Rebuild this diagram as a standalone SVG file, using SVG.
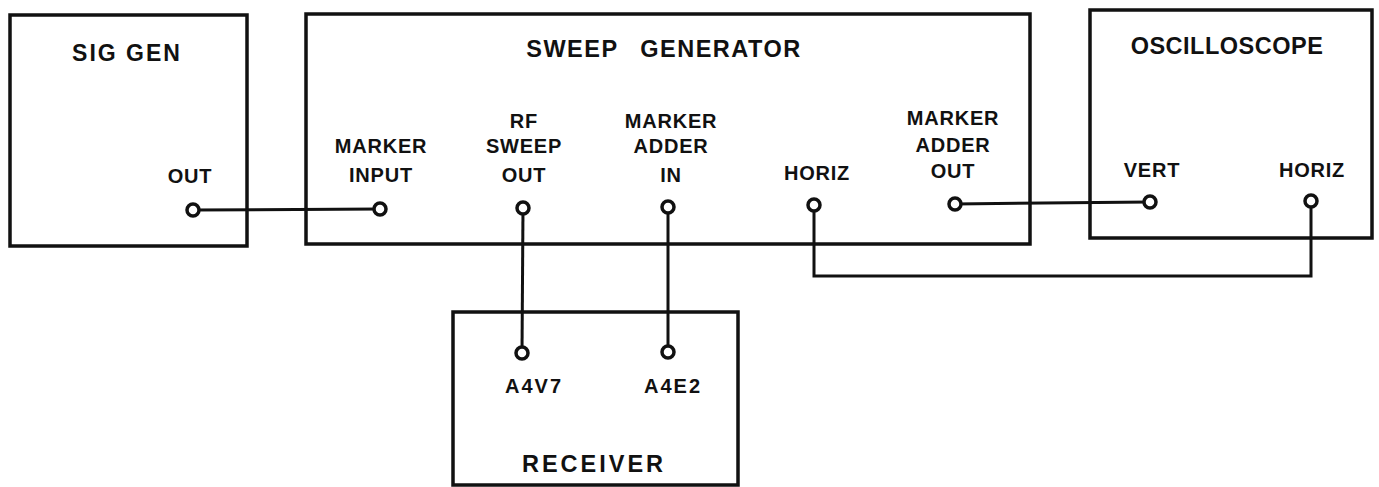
<svg xmlns="http://www.w3.org/2000/svg" width="1379" height="487" viewBox="0 0 1379 487">
<style>
.box{fill:none;stroke:#111;stroke-width:3.5}
.wire{fill:none;stroke:#111;stroke-width:3}
.jack{fill:#fff;stroke:#111;stroke-width:3.5}
.t{font-family:"Liberation Sans",Arial,sans-serif;fill:#111;text-anchor:middle;font-weight:bold}
.lbl{font-size:20px;letter-spacing:0.8px}
.ttl{font-size:23.5px;letter-spacing:1.5px}
</style>
<rect width="1379" height="487" fill="#fff"/>
<g id="connectors">
<line class="wire" x1="193" y1="210" x2="380" y2="209"/>
<line class="wire" x1="523" y1="208" x2="522" y2="353"/>
<line class="wire" x1="668" y1="207" x2="668" y2="352"/>
<line class="wire" x1="955" y1="204" x2="1150" y2="202"/>
<polyline class="wire" points="814,205 814,276 1311,276 1311,201"/>
</g>
<g id="sig-gen">
<rect class="box" x="10" y="15" width="237" height="231"/>
<text class="t ttl" x="127" y="61" style="font-size:23px;letter-spacing:2px">SIG GEN</text>
<text class="t lbl" x="190" y="183">OUT</text>
<circle class="jack" cx="193" cy="210" r="6"/>
</g>
<g id="sweep-generator">
<rect class="box" x="306" y="14" width="724" height="230"/>
<text class="t ttl" x="664" y="57" word-spacing="14">SWEEP GENERATOR</text>
<text class="t lbl" x="381" y="153">MARKER</text>
<text class="t lbl" x="381" y="182">INPUT</text>
<circle class="jack" cx="380" cy="209" r="6"/>
<text class="t lbl" x="524" y="128">RF</text>
<text class="t lbl" x="524" y="153">SWEEP</text>
<text class="t lbl" x="524" y="182">OUT</text>
<circle class="jack" cx="523" cy="208" r="6"/>
<text class="t lbl" x="671" y="128">MARKER</text>
<text class="t lbl" x="671" y="153">ADDER</text>
<text class="t lbl" x="671" y="182">IN</text>
<circle class="jack" cx="668" cy="207" r="6"/>
<text class="t lbl" x="817" y="180">HORIZ</text>
<circle class="jack" cx="814" cy="205" r="6"/>
<text class="t lbl" x="953" y="125">MARKER</text>
<text class="t lbl" x="953" y="152">ADDER</text>
<text class="t lbl" x="953" y="178">OUT</text>
<circle class="jack" cx="955" cy="204" r="6"/>
</g>
<g id="oscilloscope">
<rect class="box" x="1090" y="10" width="282" height="228"/>
<text class="t ttl" x="1227" y="54" style="letter-spacing:0.5px">OSCILLOSCOPE</text>
<text class="t lbl" x="1152" y="177">VERT</text>
<circle class="jack" cx="1150" cy="202" r="6"/>
<text class="t lbl" x="1312" y="177">HORIZ</text>
<circle class="jack" cx="1311" cy="201" r="6"/>
</g>
<g id="receiver">
<rect class="box" x="453" y="312" width="285" height="173"/>
<text class="t lbl" x="534" y="393" style="letter-spacing:2px">A4V7</text>
<circle class="jack" cx="522" cy="353" r="6"/>
<text class="t lbl" x="673" y="393" style="letter-spacing:2px">A4E2</text>
<circle class="jack" cx="668" cy="352" r="6"/>
<text class="t ttl" x="594" y="472" style="letter-spacing:3px">RECEIVER</text>
</g>
</svg>
